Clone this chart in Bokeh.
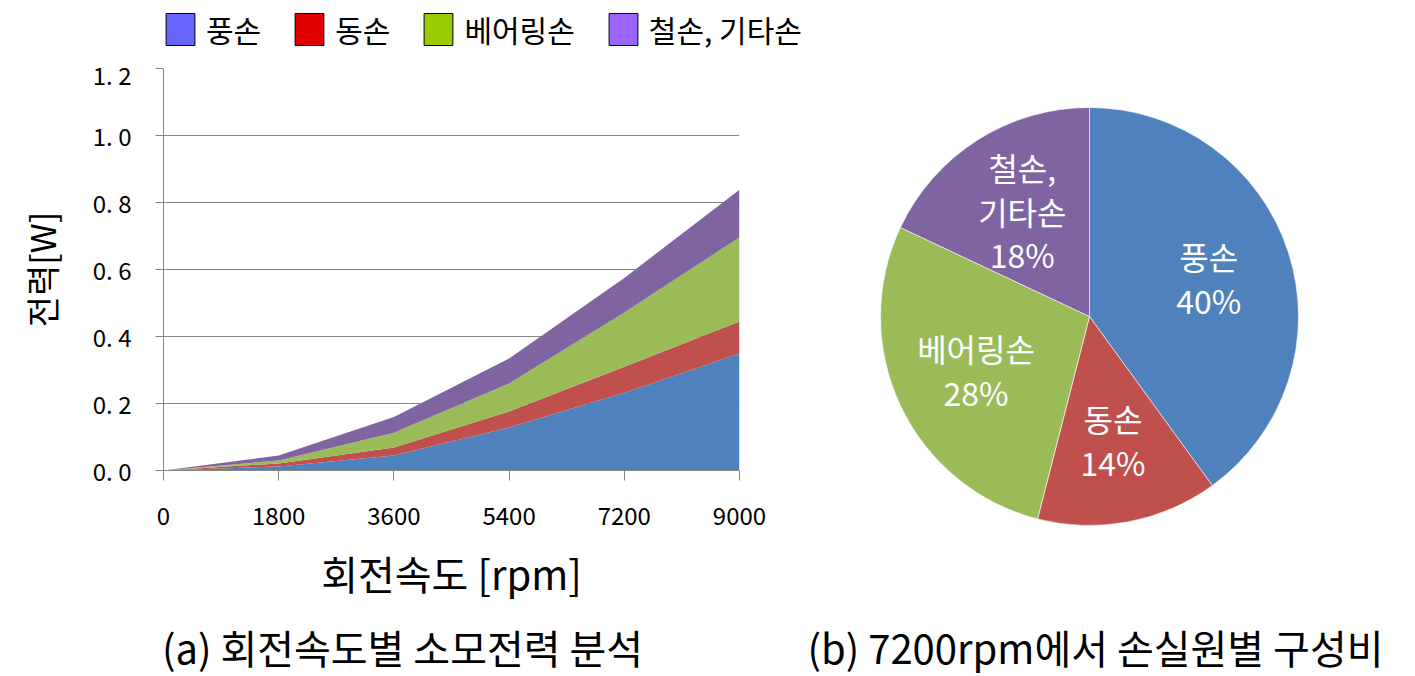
import math
from bokeh.plotting import figure
from bokeh.models import Range1d, FixedTicker, Legend, LegendItem, ColumnDataSource
from bokeh.layouts import column, row
from bokeh.embed import file_html
from bokeh.resources import INLINE
from bokeh.core.properties import value

# ---------------- data ----------------
rpm = [0, 1800, 3600, 5400, 7200, 9000]
windage = [0, 0.012, 0.045, 0.128, 0.232, 0.349]      # 풍손
copper = [0, 0.009, 0.024, 0.048, 0.078, 0.096]       # 동손
bearing = [0, 0.009, 0.044, 0.084, 0.162, 0.251]      # 베어링손
iron_other = [0, 0.015, 0.047, 0.074, 0.103, 0.142]   # 철손, 기타손

series_names = ["풍손", "동손", "베어링손", "철손, 기타손"]
area_colors = ["#4F81BD", "#C0504D", "#9BBB59", "#8064A2"]
legend_colors = ["#6666FF", "#E00000", "#99CC00", "#9966FF"]

x_ticks = [0, 1800, 3600, 5400, 7200, 9000]
x_tick_labels = ["0", "1800", "3600", "5400", "7200", "9000"]
y_ticks = [0.0, 0.2, 0.4, 0.6, 0.8, 1.0, 1.2]
y_tick_labels = ["0. 0", "0. 2", "0. 4", "0. 6", "0. 8", "1. 0", "1. 2"]

pie_names = ["풍손", "동손", "베어링손", "철손,\n기타손"]
pie_values = [40, 14, 28, 18]

x_label = "회전속도 [rpm]"
y_label = "전력[W]"
captions = ["(a) 회전속도별 소모전력 분석", "(b) 7200rpm에서 손실원별 구성비"]

FONT = "Noto Sans CJK KR"
GRAY = "#868686"
W, H = 1415, 676
TOP_H, MID_H, CAP_H = 56, 552, 68
LEFT_W = 860


def blank(width, height):
    f = figure(width=width, height=height, x_range=Range1d(0, width), y_range=Range1d(0, height),
               x_axis_type=None, y_axis_type=None, output_backend="svg", toolbar_location=None,
               min_border=0)
    f.outline_line_color = None
    f.grid.visible = False
    f.frame_align = False
    return f


# ---------------- legend strip ----------------
top = blank(W, TOP_H)
dummies = []
for c in legend_colors:
    # zero-size proxy glyph: only its legend swatch is visible
    r = top.quad(left=[0], right=[0], top=[0], bottom=[0], fill_color=c, line_color="black", line_width=1)
    dummies.append(r)
legend = Legend(items=[LegendItem(label=n, renderers=[r]) for n, r in zip(series_names, dummies)],
                orientation="horizontal", location=(162, 5),
                glyph_width=36, glyph_height=40, label_standoff=8, spacing=30,
                padding=0, margin=0, border_line_color=None, background_fill_alpha=0,
                label_text_font=FONT, label_text_font_size="30px", label_text_color="black")
top.add_layout(legend)

# ---------------- left: stacked area ----------------
p = figure(width=LEFT_W, height=MID_H, x_range=Range1d(0, 9000), y_range=Range1d(0, 1.2),
           output_backend="svg", toolbar_location=None,
           min_border_left=163, min_border_right=LEFT_W - 739,
           min_border_top=68 - TOP_H, min_border_bottom=TOP_H + MID_H - 470)
p.frame_align = False
p.outline_line_color = None

src = ColumnDataSource(dict(x=rpm, s0=windage, s1=copper, s2=bearing, s3=iron_other))
p.varea_stack(stackers=["s0", "s1", "s2", "s3"], x="x", color=area_colors, source=src)

p.xaxis.ticker = FixedTicker(ticks=x_ticks)
p.xaxis.major_label_overrides = {t: l for t, l in zip(x_ticks, x_tick_labels)}
p.yaxis.ticker = FixedTicker(ticks=y_ticks)
p.yaxis.major_label_overrides = {t: l for t, l in zip(y_ticks, y_tick_labels)}

for ax in (p.xaxis[0], p.yaxis[0]):
    ax.axis_line_color = GRAY
    ax.major_tick_line_color = GRAY
    ax.minor_tick_line_color = None
    ax.major_tick_in = 0
    ax.major_label_text_font = FONT
    ax.major_label_text_font_size = "24px"
    ax.major_label_text_color = "black"
    ax.axis_label_text_font = FONT
    ax.axis_label_text_font_style = "normal"
    ax.axis_label_text_color = "black"

p.xaxis.major_tick_out = 10
p.xaxis.major_label_standoff = 26
p.xaxis.axis_label = x_label
p.xaxis.axis_label_text_font_size = "40px"
p.xaxis.axis_label_standoff = 16

p.yaxis.major_tick_out = 8
p.yaxis.major_label_standoff = 24
p.yaxis.axis_label = y_label
p.yaxis.axis_label_text_font_size = "34px"
p.yaxis.axis_label_standoff = 24

p.xgrid.visible = False
p.ygrid.grid_line_color = GRAY
p.ygrid.grid_line_width = 1

# ---------------- right: pie ----------------
q = blank(W - LEFT_W, MID_H)
cx, cy, R = 1089 - LEFT_W, TOP_H + MID_H - 316, 209
total = sum(pie_values)
starts, ends, lx, ly, ltext = [], [], [], [], []
cum = 0
for n, v in zip(pie_names, pie_values):
    a_before = math.pi / 2 - 2 * math.pi * cum / total
    a_after = math.pi / 2 - 2 * math.pi * (cum + v) / total
    starts.append(a_after)
    ends.append(a_before)
    mid = math.pi / 2 - 2 * math.pi * (cum + v / 2) / total
    lx.append(cx + 0.6 * R * math.cos(mid))
    ly.append(cy + 0.6 * R * math.sin(mid))
    ltext.append(f"{n}\n{v}%")
    cum += v

q.wedge(x=cx, y=cy, radius=R, start_angle=starts, end_angle=ends,
        fill_color=area_colors, line_color="white", line_width=1, line_alpha=0.6)
q.text(x=lx, y=ly, text=ltext, text_align="center", text_baseline="middle",
       text_color="white", text_font=value(FONT), text_font_size="32px", text_line_height=0.95)

# ---------------- captions ----------------
cap = blank(W, CAP_H)
cap.text(x=[402, 1095], y=[H - 646, H - 646], text=captions, text_align="center",
         text_baseline="middle", text_color="black", text_font=value(FONT), text_font_size="40px")

layout = column(top, row(p, q), cap)
open("out.html", "w").write(file_html(layout, INLINE))
